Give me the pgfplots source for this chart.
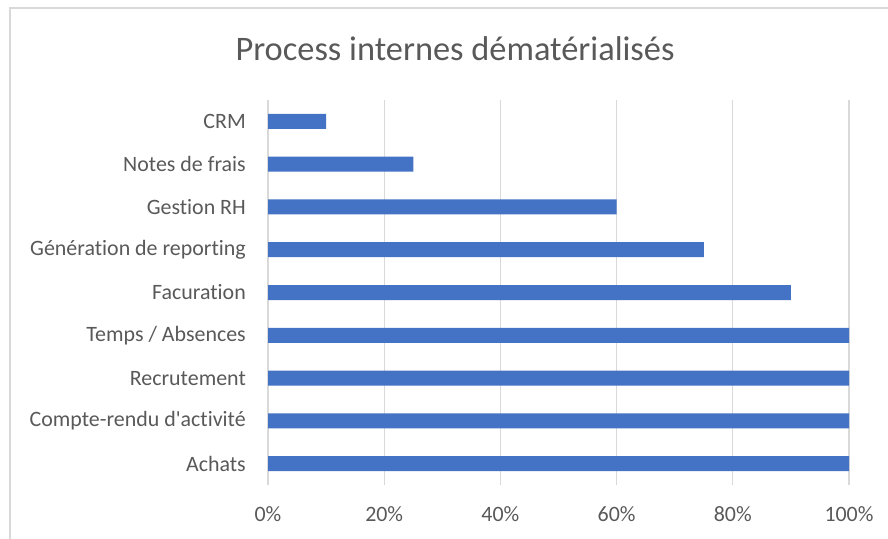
\documentclass[border=0pt]{standalone}
\usepackage{pgfplots}
\pgfplotsset{compat=1.18}
\usepackage{fontspec}
\setmainfont{Carlito}[Ligatures={NoCommon}]
\definecolor{barblue}{HTML}{4472C4}
\definecolor{txt}{HTML}{595959}
\definecolor{grd}{HTML}{D9D9D9}
\begin{document}
\begin{tikzpicture}[x=1bp,y=1bp]
\path[use as bounding box] (0,0) rectangle (888,539);
\draw[grd, line width=1.5bp] (10,0) -- (10,531) -- (888,531);
\node[anchor=base, text=txt, font=\fontsize{34.5}{40}\selectfont, inner sep=0pt] at (455,478) {Process internes dématérialisés};
\begin{axis}[
  at={(268bp,54bp)}, anchor=south west,
  scale only axis, width=581bp, height=385bp,
  xbar, bar width=15bp,
  xmin=0, xmax=100, ymin=-0.5, ymax=8.5,
  y dir=reverse,
  ytick={0,1,2,3,4,5,6,7,8},
  yticklabels={CRM,Notes de frais,Gestion RH,Génération de reporting,Facuration,Temps / Absences,Recrutement,Compte-rendu d\textquotesingle activité,Achats},
  xtick={0,20,40,60,80,100},
  xticklabels={0\%,20\%,40\%,60\%,80\%,100\%},
  xmajorgrids, grid style={grd, line width=1.3bp},
  axis line style={draw=none},
  major tick length=0pt,
  tick style={draw=none},
  ticklabel style={text=txt, font=\fontsize{22}{26}\selectfont, inner sep=0pt},
  yticklabel style={xshift=-22bp},
  xticklabel style={yshift=-21bp},
  clip=false,
]
\addplot[fill=barblue, draw=none] coordinates {
(10,0) (25,1) (60,2) (75,3) (90,4) (100,5) (100,6) (100,7) (100,8)
};
\end{axis}
\end{tikzpicture}
\end{document}
